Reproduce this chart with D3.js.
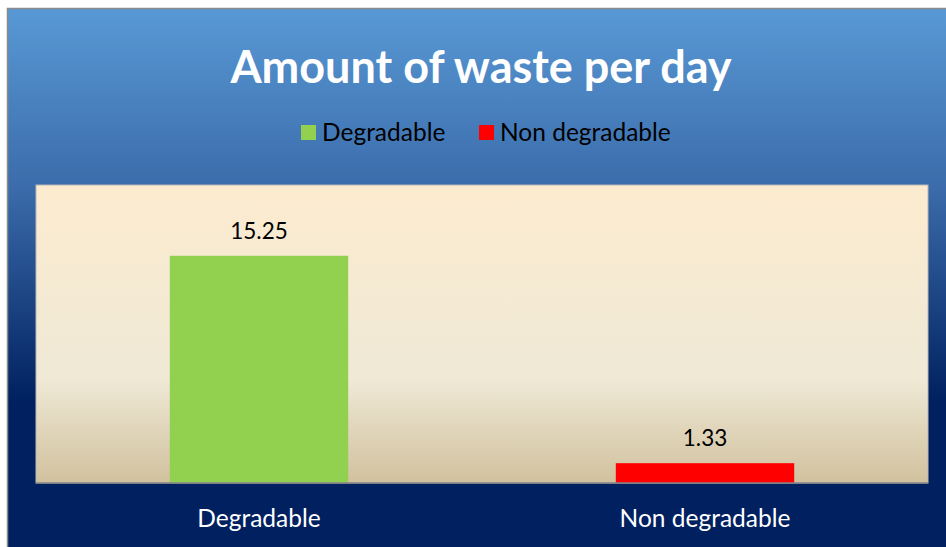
<!DOCTYPE html>
<html>
<head>
<meta charset="utf-8">
<script src="https://cdn.jsdelivr.net/npm/d3@7"></script>
<style>
  body { margin: 0; background: #fff; }
  text { font-family: Lato, "Open Sans", sans-serif; }
</style>
</head>
<body>
<svg id="chart" width="946" height="547"></svg>
<script>
const categories = ['Degradable', 'Non degradable'];
const values = [15.25, 1.33];
const colors = ['#92D050', '#FF0000'];
const yDomain = [0, 20];

const width = 946, height = 547;
const plot = { left: 36, right: 928, top: 185, bottom: 483 };

const svg = d3.select('#chart');
const defs = svg.append('defs');

// outer blue gradient
const bg = defs.append('linearGradient')
  .attr('id', 'bgGrad').attr('x1', 0).attr('y1', 0).attr('x2', 0).attr('y2', 1);
bg.append('stop').attr('offset', '0%').attr('stop-color', '#5899D5');
bg.append('stop').attr('offset', '33%').attr('stop-color', '#3B6BAA');
bg.append('stop').attr('offset', '72%').attr('stop-color', '#00205F');
bg.append('stop').attr('offset', '100%').attr('stop-color', '#00205F');

// plot area gradient
const pg = defs.append('linearGradient')
  .attr('id', 'plotGrad').attr('x1', 0).attr('y1', 0).attr('x2', 0).attr('y2', 1);
pg.append('stop').attr('offset', '0%').attr('stop-color', '#FCEBCF');
pg.append('stop').attr('offset', '65%').attr('stop-color', '#EFE9D6');
pg.append('stop').attr('offset', '100%').attr('stop-color', '#D1C19E');

svg.append('rect')
  .attr('x', 7.5).attr('y', 8.5)
  .attr('width', width).attr('height', height)
  .attr('fill', 'url(#bgGrad)')
  .attr('stroke', '#8a8a8a').attr('stroke-width', 1.5);

svg.append('rect')
  .attr('x', plot.left).attr('y', plot.top)
  .attr('width', plot.right - plot.left).attr('height', plot.bottom - plot.top)
  .attr('fill', 'url(#plotGrad)')
  .attr('stroke', '#b8b8b8').attr('stroke-width', 1);

const x = d3.scaleBand()
  .domain(categories)
  .range([plot.left, plot.right])
  .paddingInner(0.6)
  .paddingOuter(0.3);

const y = d3.scaleLinear()
  .domain(yDomain)
  .range([plot.bottom, plot.top]);

svg.selectAll('.bar')
  .data(categories)
  .enter()
  .append('rect')
  .attr('class', 'bar')
  .attr('x', d => x(d))
  .attr('y', (d, i) => y(values[i]))
  .attr('width', x.bandwidth())
  .attr('height', (d, i) => y(0) - y(values[i]))
  .attr('fill', (d, i) => colors[i]);

// axis line
svg.append('line')
  .attr('x1', plot.left).attr('x2', plot.right)
  .attr('y1', plot.bottom).attr('y2', plot.bottom)
  .attr('stroke', '#868686').attr('stroke-width', 1.5);

// data labels
svg.selectAll('.val')
  .data(categories)
  .enter()
  .append('text')
  .attr('class', 'val')
  .attr('x', d => x(d) + x.bandwidth() / 2)
  .attr('y', (d, i) => y(values[i]) - 17)
  .attr('text-anchor', 'middle')
  .attr('font-size', 22.5)
  .attr('fill', '#000')
  .text((d, i) => values[i]);

// category labels
const xAxis = svg.append('g')
  .attr('transform', `translate(0,${plot.bottom})`)
  .call(d3.axisBottom(x).tickSize(0).tickPadding(27));
xAxis.select('.domain').remove();
xAxis.selectAll('text')
  .attr('font-size', 24.5)
  .attr('fill', '#fff')
  .style('font-family', 'Lato, "Open Sans", sans-serif');

// title
svg.append('text')
  .attr('x', 481).attr('y', 83)
  .attr('text-anchor', 'middle')
  .attr('font-size', 45)
  .attr('font-weight', 'bold')
  .attr('fill', '#fff')
  .text('Amount of waste per day');

// legend
const legendX = [301, 479];
const legend = svg.selectAll('.legend')
  .data(categories)
  .enter()
  .append('g')
  .attr('class', 'legend')
  .attr('transform', (d, i) => `translate(${legendX[i]},125)`);
legend.append('rect')
  .attr('width', 15).attr('height', 15)
  .attr('fill', (d, i) => colors[i]);
legend.append('text')
  .attr('x', 21).attr('y', 16)
  .attr('font-size', 24.5)
  .attr('fill', '#000')
  .text(d => d);
</script>
</body>
</html>
